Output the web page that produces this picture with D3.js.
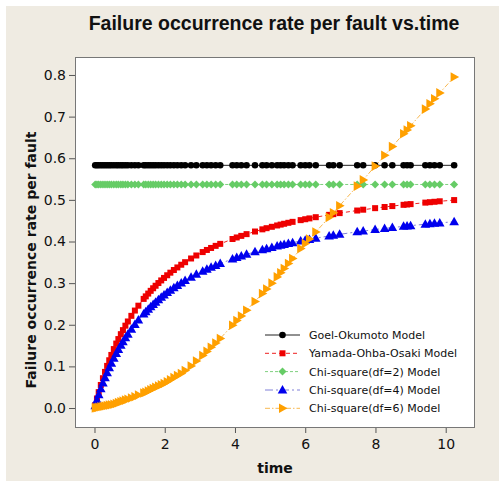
<!DOCTYPE html>
<html><head><meta charset="utf-8">
<script src="https://cdn.jsdelivr.net/npm/d3@7/dist/d3.min.js"></script>
<style>html,body{margin:0;padding:0;background:#fff;}</style>
</head><body>
<svg id="chart" width="499" height="481"></svg>
<script>
const times = [0.02,0.07,0.12,0.18,0.24,0.30,0.36,0.42,0.48,0.55,0.62,0.68,0.75,0.81,0.88,0.95,1.05,1.15,1.25,1.40,1.46,1.53,1.60,1.67,1.74,1.82,1.90,1.98,2.07,2.16,2.26,2.36,2.47,2.58,2.75,2.90,3.08,3.20,3.32,3.45,3.58,3.93,4.05,4.18,4.33,4.57,4.78,4.90,5.05,5.20,5.30,5.40,5.52,5.64,5.87,6.00,6.12,6.30,6.68,6.80,6.98,7.48,7.65,7.99,8.26,8.48,8.80,8.90,9.00,9.42,9.55,9.68,9.83,10.24];
const goelRate = 0.583;
const chi2Rate = 0.537;
const yamada = [0.0067,0.0229,0.0381,0.0554,0.0716,0.0868,0.1012,0.1147,0.1275,0.1416,0.1548,0.1656,0.1774,0.1871,0.1978,0.2079,0.2214,0.2341,0.2458,0.2621,0.2682,0.2749,0.2815,0.2877,0.2937,0.3002,0.3065,0.3125,0.3189,0.3251,0.3315,0.3377,0.3442,0.3503,0.3592,0.3664,0.3746,0.3797,0.3845,0.3895,0.3943,0.4060,0.4097,0.4135,0.4177,0.4240,0.4292,0.4320,0.4353,0.4385,0.4406,0.4426,0.4449,0.4472,0.4513,0.4535,0.4555,0.4584,0.4640,0.4657,0.4682,0.4744,0.4764,0.4801,0.4829,0.4851,0.4881,0.4890,0.4898,0.4934,0.4944,0.4954,0.4966,0.4995];
const chi4 = [0.0056,0.0190,0.0317,0.0462,0.0598,0.0727,0.0849,0.0965,0.1075,0.1196,0.1311,0.1404,0.1508,0.1592,0.1686,0.1775,0.1895,0.2007,0.2112,0.2258,0.2312,0.2373,0.2432,0.2488,0.2543,0.2602,0.2659,0.2714,0.2773,0.2829,0.2888,0.2945,0.3005,0.3061,0.3143,0.3211,0.3287,0.3334,0.3379,0.3426,0.3471,0.3581,0.3616,0.3652,0.3691,0.3751,0.3800,0.3827,0.3858,0.3889,0.3909,0.3928,0.3950,0.3971,0.4011,0.4032,0.4051,0.4079,0.4133,0.4149,0.4172,0.4232,0.4251,0.4288,0.4314,0.4335,0.4364,0.4373,0.4381,0.4416,0.4426,0.4436,0.4447,0.4475];
const chi6 = [0.0003,0.001,0.002,0.003,0.004,0.005,0.006,0.007,0.008,0.009,0.011,0.013,0.015,0.017,0.019,0.021,0.024,0.027,0.031,0.036,0.038,0.041,0.044,0.047,0.050,0.053,0.056,0.059,0.063,0.068,0.073,0.078,0.083,0.090,0.101,0.113,0.126,0.136,0.146,0.156,0.167,0.199,0.210,0.221,0.235,0.256,0.275,0.286,0.300,0.315,0.325,0.335,0.347,0.359,0.383,0.395,0.406,0.423,0.458,0.469,0.486,0.533,0.548,0.581,0.607,0.628,0.659,0.668,0.678,0.718,0.731,0.743,0.757,0.795];
const xTicks = [0,2,4,6,8,10];
const yTicks = [0.0,0.1,0.2,0.3,0.4,0.5,0.6,0.7,0.8];
const seriesNames = ["Goel-Okumoto Model","Yamada-Ohba-Osaki Model","Chi-square(df=2) Model","Chi-square(df=4) Model","Chi-square(df=6) Model"];

const svg = d3.select("#chart");
svg.append("rect").attr("x",6).attr("y",6).attr("width",493).attr("height",475).attr("fill","#efebe2");

const L=75,R=475,T=57,B=428;
const x = d3.scaleLinear().domain([-0.555,10.834]).range([L,R]);
const y = d3.scaleLinear().domain([-0.048,0.8432]).range([B,T]);

svg.append("rect").attr("x",L).attr("y",T).attr("width",R-L).attr("height",B-T).attr("fill","#fff");

const tickFont = "DejaVu Sans, Verdana, sans-serif";
// axes
const xAxis = d3.axisBottom(x).tickValues(xTicks).tickFormat(d3.format("d")).tickSize(5).tickPadding(6);
const gx = svg.append("g").attr("transform",`translate(0,${B})`).call(xAxis);
gx.select(".domain").remove();
gx.selectAll("line").attr("stroke","#555");
gx.selectAll("text").attr("font-family",tickFont).attr("font-size",14).attr("fill","#111").attr("dy","0.71em");

const yAxis = d3.axisLeft(y).tickValues(yTicks).tickFormat(d3.format(".1f")).tickSize(6).tickPadding(3);
const gy = svg.append("g").attr("transform",`translate(${L},0)`).call(yAxis);
gy.select(".domain").remove();
gy.selectAll("line").attr("stroke","#555");
gy.selectAll("text").attr("font-family",tickFont).attr("font-size",14).attr("fill","#111");

svg.append("rect").attr("x",L+0.5).attr("y",T+0.5).attr("width",R-L-1).attr("height",B-T-1)
  .attr("fill","none").attr("stroke","#777").attr("stroke-width",1);

// series
const series = [
  {name:seriesNames[0], vals: times.map(()=>goelRate), color:"#000", line:"#222", dash:null, sym:"circle"},
  {name:seriesNames[1], vals: yamada, color:"#ee0000", line:"#ee2020", dash:"4,3", sym:"square"},
  {name:seriesNames[2], vals: times.map(()=>chi2Rate), color:"#66cc66", line:"#7fd07f", dash:"3,2", sym:"diamond"},
  {name:seriesNames[3], vals: chi4, color:"#0000ee", line:"#8080d8", dash:"8,3,2,3", sym:"triangle"},
  {name:seriesNames[4], vals: chi6, color:"#ffa000", line:"#f8b850", dash:"5,2,1.5,2", sym:"right"}
];

function marker(g, sym, color){
  if(sym==="circle") g.append("circle").attr("r",3.3).attr("fill",color);
  else if(sym==="square") g.append("rect").attr("x",-3).attr("y",-3).attr("width",6).attr("height",6).attr("fill",color);
  else if(sym==="diamond") g.append("path").attr("d","M0,-4L4,0L0,4L-4,0Z").attr("fill",color);
  else if(sym==="triangle") g.append("path").attr("d","M0,-5L4.8,3.5L-4.8,3.5Z").attr("fill",color);
  else if(sym==="right") g.append("path").attr("d","M5,0L-3.5,-4.8L-3.5,4.8Z").attr("fill",color);
}

const plot = svg.append("g");
series.forEach(s=>{
  const pts = times.map((t,i)=>[t,s.vals[i]]);
  plot.append("path").datum(pts)
    .attr("d", d3.line().x(d=>x(d[0])).y(d=>y(d[1])))
    .attr("fill","none").attr("stroke",s.line).attr("stroke-width",1)
    .attr("stroke-dasharray",s.dash);
});
series.forEach(s=>{
  times.forEach((t,i)=>{
    const g = plot.append("g").attr("transform",`translate(${x(t)},${y(s.vals[i])})`);
    marker(g,s.sym,s.color);
  });
});

// legend
const legY = [335,353.3,371.6,390,408.3];
series.forEach((s,i)=>{
  const g = svg.append("g").attr("transform",`translate(0,${legY[i]})`);
  g.append("line").attr("x1",265).attr("x2",300).attr("y1",0).attr("y2",0)
    .attr("stroke",s.line).attr("stroke-width",1).attr("stroke-dasharray",s.dash);
  const m = g.append("g").attr("transform","translate(282.5,0)");
  marker(m,s.sym,s.color);
  g.append("text").attr("x",309).attr("y",0).attr("dy","0.36em")
    .attr("font-family",tickFont).attr("font-size",11).attr("fill","#111").text(s.name);
});

// titles
svg.append("text").attr("x",274).attr("y",30).attr("text-anchor","middle")
  .attr("font-family","Liberation Sans, Arial, sans-serif").attr("font-weight","bold").attr("font-size",19.5)
  .attr("fill","#111").text("Failure occurrence rate per fault vs.time");
svg.append("text").attr("x",275).attr("y",473).attr("text-anchor","middle")
  .attr("font-family",tickFont).attr("font-weight","bold").attr("font-size",14)
  .attr("fill","#111").text("time");
svg.append("text").attr("transform","translate(36,260) rotate(-90)").attr("text-anchor","middle")
  .attr("font-family",tickFont).attr("font-weight","bold").attr("font-size",14)
  .attr("fill","#111").text("Failure occurrence rate per fault");
</script>
</body></html>
